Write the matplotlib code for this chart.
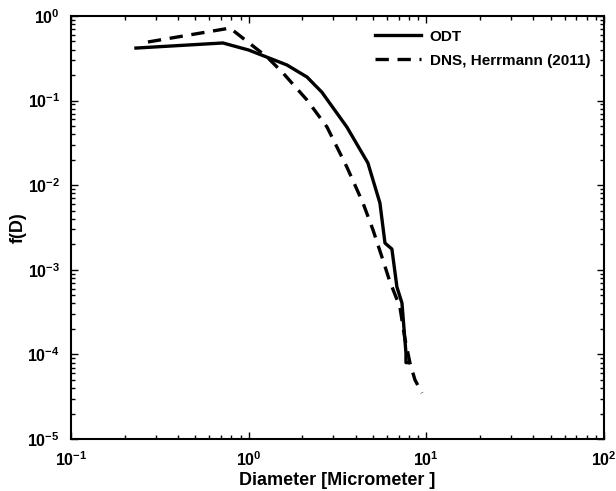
import numpy as np
import matplotlib
matplotlib.use("Agg")
import matplotlib.pyplot as plt
from matplotlib.ticker import FuncFormatter, LogLocator

plt.rcParams["font.family"] = ["Liberation Sans", "DejaVu Sans"]
plt.rcParams["font.weight"] = "bold"
plt.rcParams["mathtext.fontset"] = "custom"
plt.rcParams["mathtext.rm"] = "Liberation Sans:bold"
plt.rcParams["mathtext.bf"] = "Liberation Sans:bold"

# ODT
odt_d = [0.232, 0.716, 1.0, 1.64, 2.13, 2.58, 3.57, 4.69, 5.01, 5.48, 5.85, 6.40, 6.83, 7.29, 7.68, 7.68, 7.85]
odt_f = [0.418, 0.48, 0.396, 0.264, 0.19, 0.126, 0.0487, 0.0183, 0.0115, 0.00616, 0.00207, 0.00176,
         6.26e-4, 4.05e-4, 1.04e-4, 8.0e-5, 8.0e-5]

# DNS, Herrmann (2011)
dns_d = [0.271, 0.785, 1.27, 1.56, 2.13, 2.76, 3.57, 4.40, 5.01, 5.70, 6.20, 7.10, 7.55, 8.09, 8.63, 9.45]
dns_f = [0.493, 0.72, 0.327, 0.212, 0.1016, 0.0487, 0.0164, 0.00616, 0.00296, 0.0013, 7.5e-4,
         3.63e-4, 1.6e-4, 7.9e-5, 5.0e-5, 3.5e-5]

fig = plt.figure(figsize=(6.16, 4.91), dpi=100)
ax = fig.add_axes([0.1153, 0.1059, 0.8652, 0.8615])

ax.loglog(odt_d, odt_f, "k-", lw=2.4, label="ODT")
ax.loglog(dns_d, dns_f, "k--", lw=2.4, dashes=(4, 2.6), label="DNS, Herrmann (2011)")

ax.set_xlim(0.1, 100)
ax.set_ylim(1e-5, 1)

fmt = FuncFormatter(lambda v, p: r"$\mathbf{10^{%d}}$" % int(round(np.log10(v))))
ax.xaxis.set_major_locator(LogLocator(base=10, numticks=10))
ax.yaxis.set_major_locator(LogLocator(base=10, numticks=10))
ax.xaxis.set_major_formatter(fmt)
ax.yaxis.set_major_formatter(fmt)
ax.tick_params(which="both", direction="in", top=True, right=True, labelsize=11.5, width=1)
ax.tick_params(which="major", length=5)
ax.tick_params(which="minor", length=3)
ax.tick_params(axis="x", which="major", pad=8)
ax.tick_params(axis="y", which="major", pad=8)
for s in ax.spines.values():
    s.set_linewidth(1.5)

ax.set_xlabel("Diameter [Micrometer ]", fontsize=13, fontweight="bold", labelpad=2)
ax.set_ylabel("f(D)", fontsize=13, fontweight="bold")
ax.yaxis.set_label_coords(-0.083, 0.5)

leg = ax.legend(loc="upper right", frameon=False, fontsize=11, handlelength=3.0,
                borderaxespad=0.5, labelspacing=0.65, handletextpad=0.6)
for t in leg.get_texts():
    t.set_fontweight("bold")

fig.savefig("out.png", dpi=100)
